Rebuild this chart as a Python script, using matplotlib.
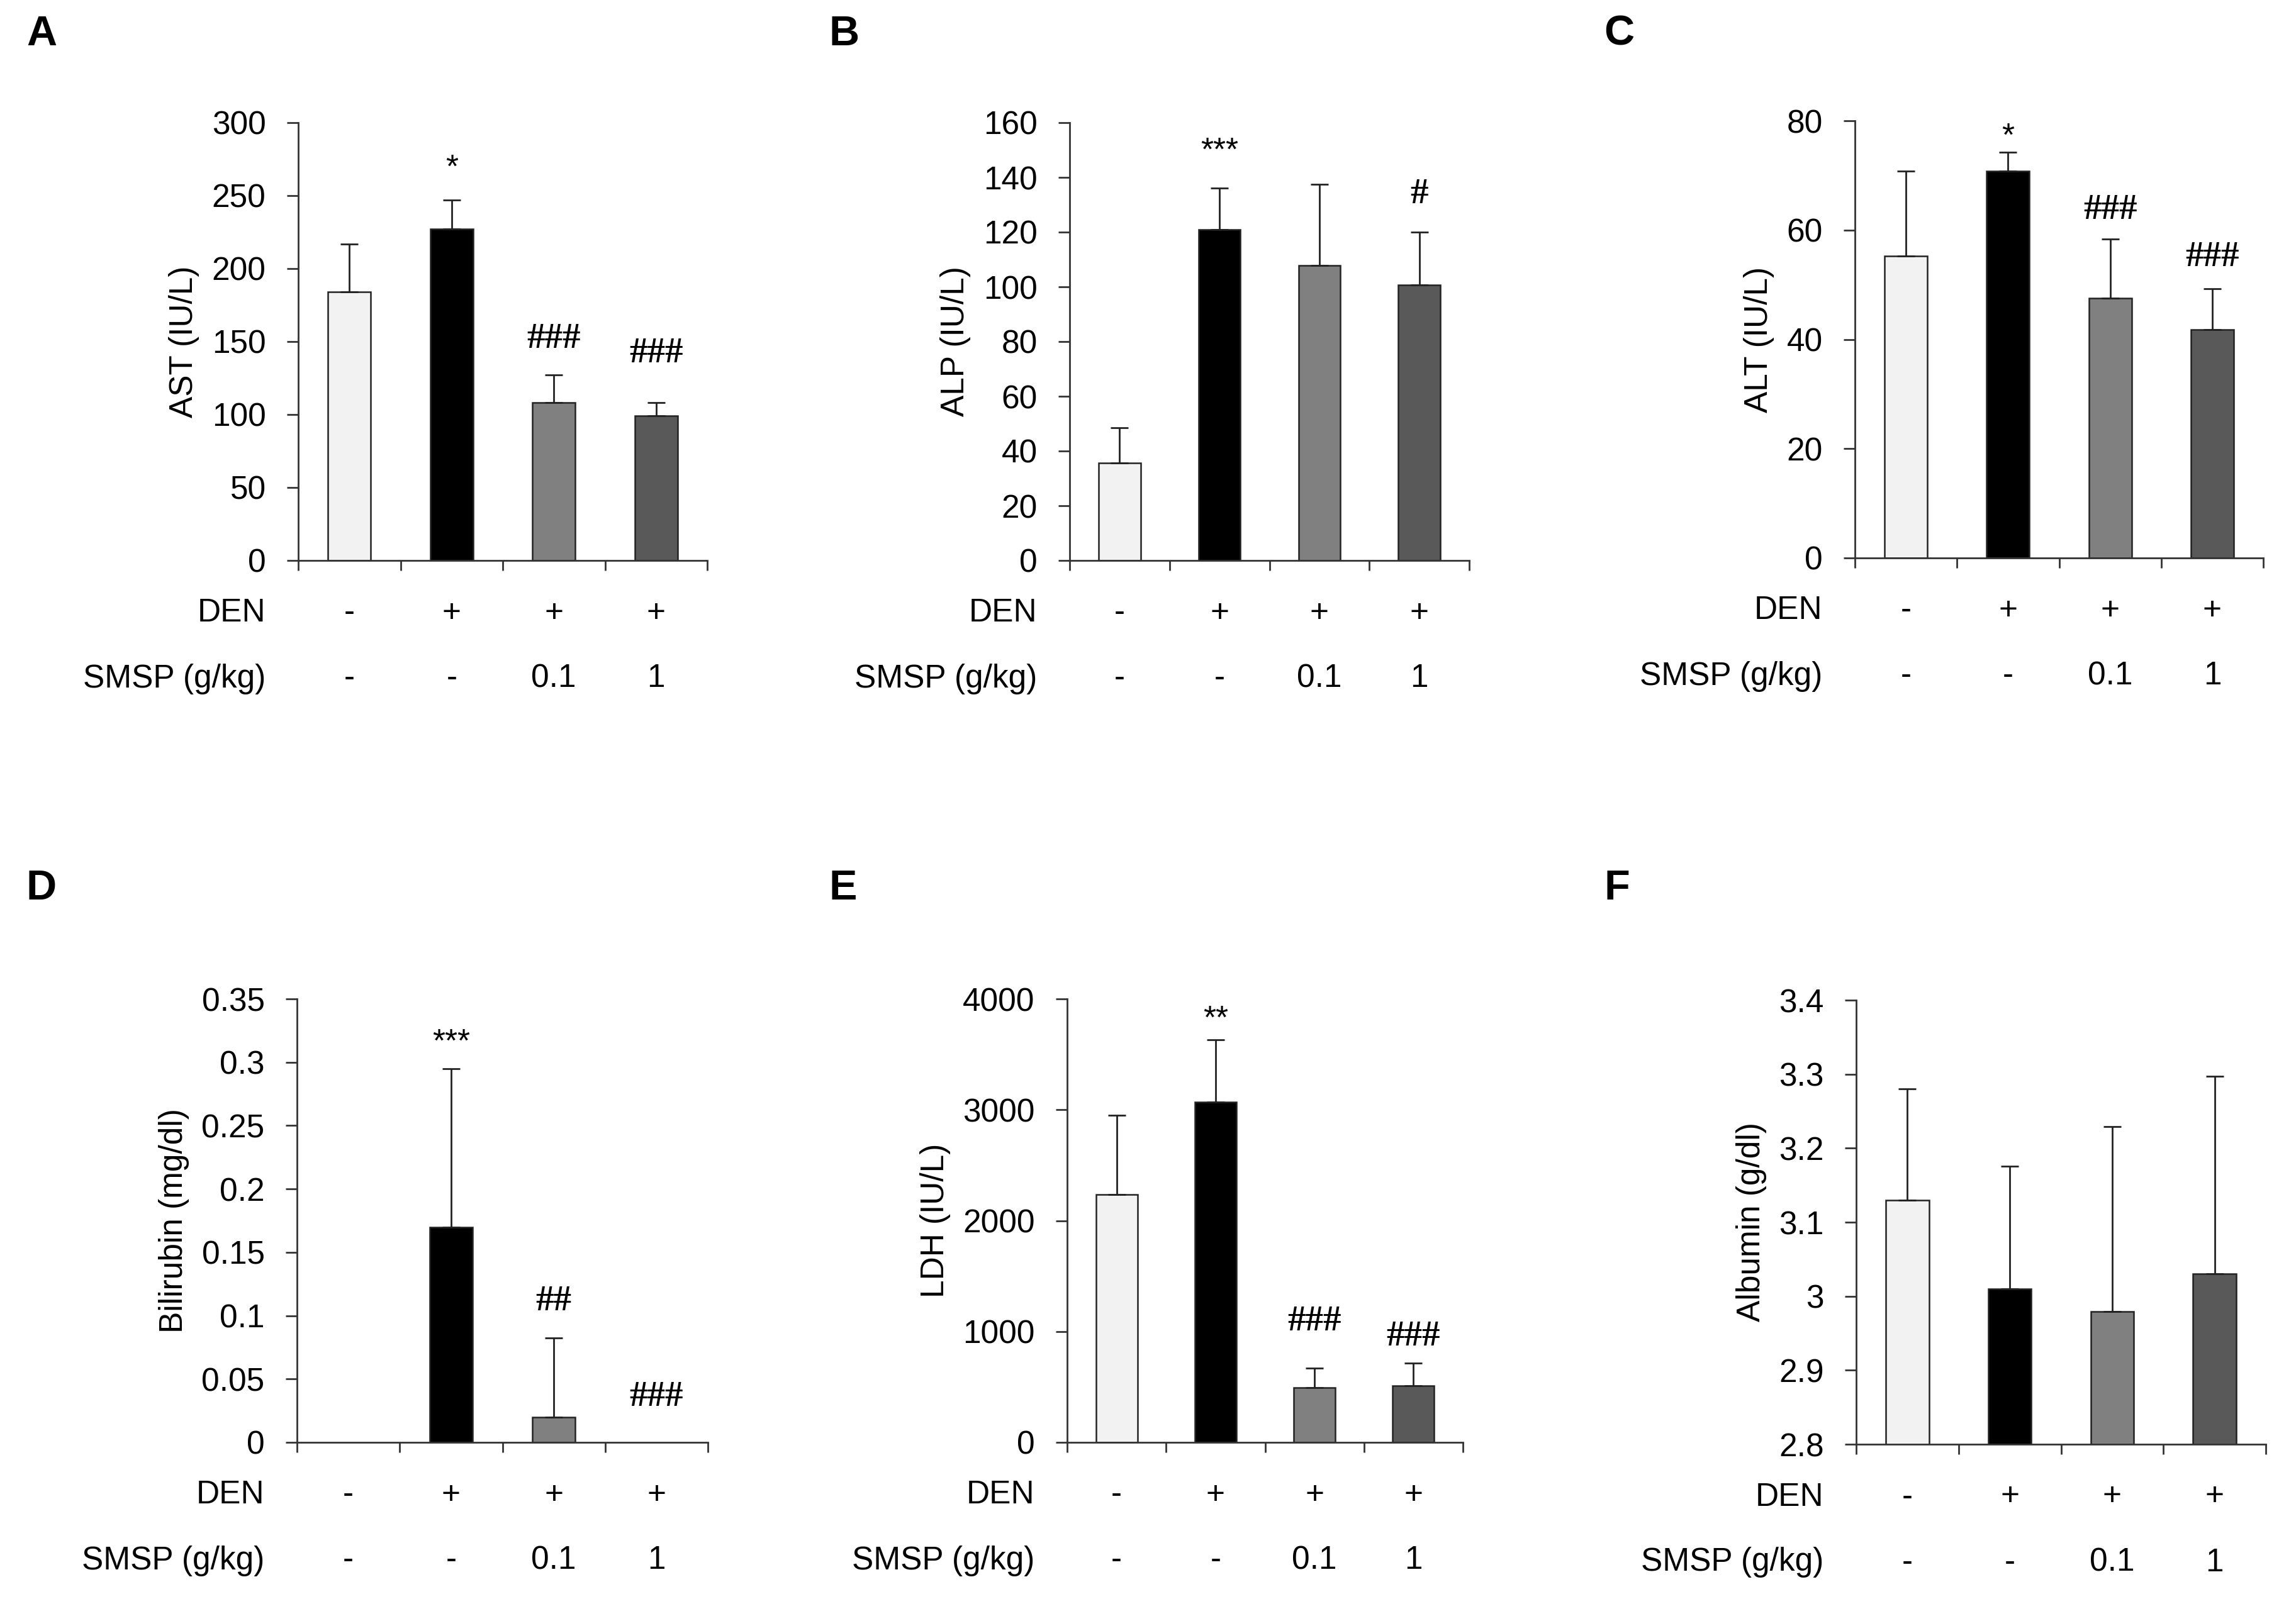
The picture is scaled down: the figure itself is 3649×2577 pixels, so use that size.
import matplotlib
matplotlib.use("Agg")
import matplotlib.pyplot as plt
import numpy as np
from matplotlib.ticker import FuncFormatter

plt.rcParams["font.family"] = ["Liberation Sans", "DejaVu Sans"]

W, H = 3649, 2577
DPI = 100

den_row = ["-", "+", "+", "+"]
smsp_row = ["-", "-", "0.1", "1"]
bar_colors = ["#f2f2f2", "#000000", "#808080", "#595959"]

# panel A: AST
ast_mean = [184, 227, 108, 99]
ast_err = [33, 20, 19, 9]
ast_marks = [(1, "*", 275), (2, "###", 154), (3, "###", 144)]

# panel B: ALP
alp_mean = [35.7, 121, 107.8, 100.7]
alp_err = [12.8, 15.2, 29.7, 19.2]
alp_marks = [(1, "***", 153), (3, "#", 135)]

# panel C: ALT
alt_mean = [55.2, 70.8, 47.5, 41.8]
alt_err = [15.6, 3.4, 10.9, 7.5]
alt_marks = [(1, "*", 78.8), (2, "###", 64.2), (3, "###", 55.6)]

# panel D: bilirubin
bil_mean = [0, 0.17, 0.02, 0]
bil_err = [0, 0.125, 0.0625, 0]
bil_marks = [(1, "***", 0.323), (2, "##", 0.1135), (3, "###", 0.0383)]

# panel E: LDH
ldh_mean = [2234, 3068, 494, 511]
ldh_err = [715, 566, 174, 204]
ldh_marks = [(1, "**", 3902), (2, "###", 1115), (3, "###", 979)]

# panel F: albumin
alb_mean = [3.130, 3.010, 2.979, 3.030]
alb_err = [0.150, 0.166, 0.250, 0.267]
alb_marks = []

EDGE = "#222222"


def fmt(v, _pos):
    return "%g" % round(v, 6)


def draw_panel(fig, box, letter, letter_xy, ylabel, mean, err, ylo, yhi, step, marks):
    left, top, right, bottom = box
    ax = fig.add_axes([left / W, 1 - bottom / H, (right - left) / W, (bottom - top) / H])
    xs = [i + 0.5 for i in range(4)]
    for x, m, e, c in zip(xs, mean, err, bar_colors):
        if m <= 0:
            continue
        ax.bar(x, m, width=0.42, color=c, edgecolor=EDGE, linewidth=1.8, zorder=2)
        if e > 0:
            ax.errorbar(x, m, yerr=[[0], [e]], fmt="none", ecolor=EDGE,
                        elinewidth=2, capsize=10, capthick=2, zorder=3)

    for i, sym, y in marks:
        if sym.startswith("*"):
            ax.annotate(sym, xy=(i + 0.5, y), xytext=(0, -29), textcoords="offset pixels",
                        ha="center", va="baseline", fontsize=37)
        else:
            ax.annotate(sym, xy=(i + 0.5, y), xytext=(0, -19), textcoords="offset pixels",
                        ha="center", va="baseline", fontsize=41, fontweight="bold",
                        family=["Liberation Serif", "DejaVu Serif"])

    ax.set_xlim(0, 4)
    ax.set_ylim(ylo, yhi)
    n = int(round((yhi - ylo) / step))
    ax.set_yticks(np.linspace(ylo, yhi, n + 1))
    ax.yaxis.set_major_formatter(FuncFormatter(fmt))
    ax.set_xticks([0, 1, 2, 3, 4])
    ax.set_xticklabels([])
    ax.tick_params(axis="y", length=13, width=2, pad=24, labelsize=37, color="#333333")
    ax.tick_params(axis="x", length=11.5, width=2, color="#333333")
    for side in ["top", "right"]:
        ax.spines[side].set_visible(False)
    for side in ["left", "bottom"]:
        ax.spines[side].set_linewidth(2)
        ax.spines[side].set_color("#333333")
    ax.set_ylabel(ylabel, fontsize=37, labelpad=14)

    xt = ax.get_xaxis_transform()
    ax.annotate("DEN", xy=(0, 0), xycoords="axes fraction", xytext=(-52, -84),
                textcoords="offset pixels", ha="right", va="center", fontsize=37)
    ax.annotate("SMSP (g/kg)", xy=(0, 0), xycoords="axes fraction", xytext=(-52, -188),
                textcoords="offset pixels", ha="right", va="center", fontsize=37)
    for i, (d, s) in enumerate(zip(den_row, smsp_row)):
        ax.annotate(d, xy=(i + 0.5, 0), xycoords=xt, xytext=(0, -84),
                    textcoords="offset pixels", ha="center", va="center", fontsize=37)
        ax.annotate(s, xy=(i + 0.5, 0), xycoords=xt, xytext=(0, -188),
                    textcoords="offset pixels", ha="center", va="center", fontsize=37)

    fig.text(letter_xy[0] / W, 1 - letter_xy[1] / H, letter, fontsize=48,
             fontweight="bold", ha="left", va="top")
    return ax


fig = plt.figure(figsize=(W / DPI, H / DPI), dpi=DPI)

draw_panel(fig, (474, 195, 1124, 891), "A", (42, 24), "AST (IU/L)",
           ast_mean, ast_err, 0, 300, 50, ast_marks)
draw_panel(fig, (1700, 195, 2335, 891), "B", (1318, 24), "ALP (IU/L)",
           alp_mean, alp_err, 0, 160, 20, alp_marks)
draw_panel(fig, (2948, 192, 3597, 887), "C", (2549, 24), "ALT (IU/L)",
           alt_mean, alt_err, 0, 80, 20, alt_marks)
draw_panel(fig, (472, 1588, 1125, 2293), "D", (42, 1382), "Bilirubin (mg/dl)",
           bil_mean, bil_err, 0, 0.35, 0.05, bil_marks)
draw_panel(fig, (1696, 1588, 2325, 2293), "E", (1318, 1382), "LDH (IU/L)",
           ldh_mean, ldh_err, 0, 4000, 1000, ldh_marks)
draw_panel(fig, (2950, 1590, 3601, 2296), "F", (2549, 1382), "Albumin (g/dl)",
           alb_mean, alb_err, 2.8, 3.4, 0.1, alb_marks)

fig.savefig("out.png", dpi=DPI, facecolor="white")
